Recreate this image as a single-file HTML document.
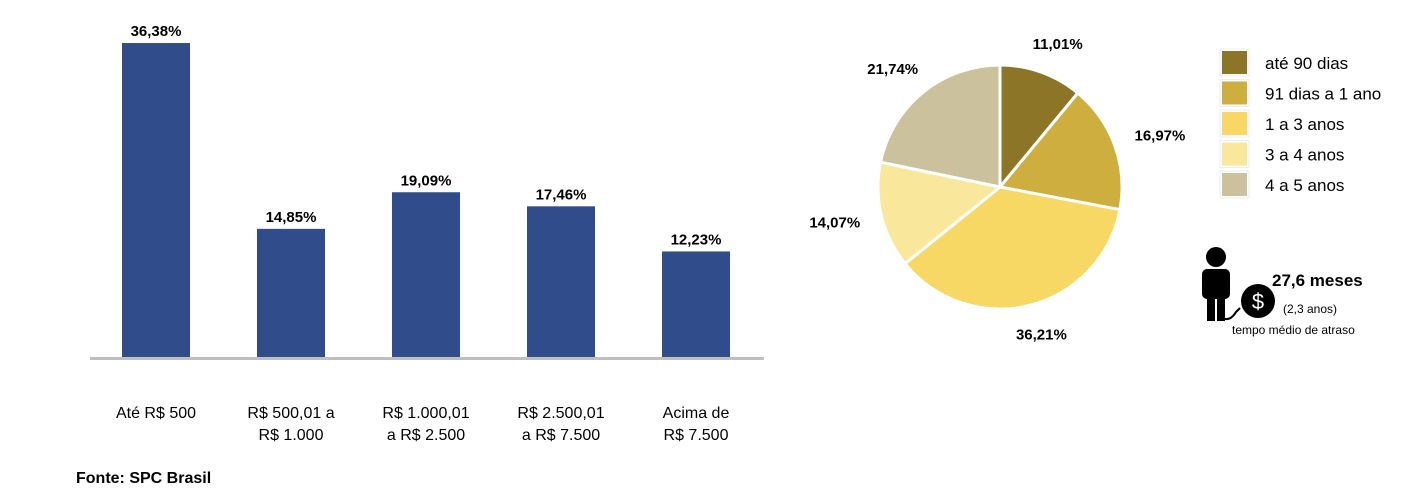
<!DOCTYPE html>
<html><head><meta charset="utf-8"><style>
html,body{margin:0;padding:0;background:#fff;width:1416px;height:498px;overflow:hidden}
svg{display:block;font-family:"Liberation Sans",sans-serif}
</style></head><body>
<svg id="c" width="1416" height="498" viewBox="0 0 1416 498">
<g id="bars"></g>
<line x1="90" y1="358.5" x2="764" y2="358.5" stroke="#bfbfbf" stroke-width="3"/>
<g id="xlabels"></g>
<text x="76" y="483" font-size="16" font-weight="bold" fill="#000">Fonte: SPC Brasil</text>
<g id="pie"></g>
<g id="legend"></g>
<g>
 <g fill="#000">
  <circle cx="1216" cy="257" r="10"/>
  <rect x="1202" y="269" width="28" height="30" rx="5"/>
  <rect x="1207" y="290" width="8" height="31"/>
  <rect x="1217" y="290" width="8" height="31"/>
  <path d="M1222 318 q8 4 14 -6 l4 -4" stroke="#000" stroke-width="2" fill="none"/>
 </g>
 <g>
  <circle cx="1258" cy="301" r="17" fill="#000"/>
  <text x="1258" y="309" font-size="22" fill="#fff" text-anchor="middle">$</text>
 </g>
 <text x="1272" y="286" font-size="17" font-weight="bold">27,6 meses</text>
 <text x="1283" y="313" font-size="12">(2,3 anos)</text>
 <text x="1232" y="334" font-size="12">tempo médio de atraso</text>
</g>
</svg>
<script>
const categories=[["Até R$ 500"],["R$ 500,01 a","R$ 1.000"],["R$ 1.000,01","a R$ 2.500"],["R$ 2.500,01","a R$ 7.500"],["Acima de","R$ 7.500"]];
const barValues=[36.38,14.85,19.09,17.46,12.23];
const barLabels=["36,38%","14,85%","19,09%","17,46%","12,23%"];
const pieCategories=["até 90 dias","91 dias a 1 ano","1 a 3 anos","3 a 4 anos","4 a 5 anos"];
const pieValues=[11.01,16.97,36.21,14.07,21.74];
const pieLabels=["11,01%","16,97%","36,21%","14,07%","21,74%"];
const pieColors=["#8c7526","#cfae40","#f8d864","#f9e79b","#cbc29d"];

const NS="http://www.w3.org/2000/svg";
function mk(t,a,p){const e=document.createElementNS(NS,t);for(const k in a)e.setAttribute(k,a[k]);p.appendChild(e);return e;}
const y0=357,scale=8.63,x0=156,step=135,bw=68;
const xPos=i=>x0+i*step, yPos=v=>y0-v*scale;
const gB=document.getElementById('bars'),gX=document.getElementById('xlabels');
barValues.forEach((v,i)=>{
 const r=mk('rect',{x:xPos(i)-bw/2,y:yPos(v),width:bw,height:y0-yPos(v),fill:'#304c8b'},gB);
 
 
 const t=mk('text',{x:xPos(i),y:yPos(v)-7,'font-size':15,'font-weight':'bold','text-anchor':'middle'},gB);
 t.textContent=barLabels[i];
 
 
 categories[i].forEach((l,j)=>{
  const c=mk('text',{x:xPos(i),y:418+j*22,'font-size':16,'text-anchor':'middle'},gX);
  c.textContent=l;
  
  
 });
});
const cx=1000,cy=187,R=122,gP=document.getElementById('pie');
const tot=pieValues.reduce((a,b)=>a+b,0);
let ang=0;
const lblOff=[[100,-127],[148,-50],[75,135],[-128,-37],[-128,-103]];
pieValues.forEach((v,i)=>{
 const a0=ang,a1=ang+v/tot*2*Math.PI;ang=a1;
 const p=a=>[cx+R*Math.sin(a),cy-R*Math.cos(a)];
 const [x1,y1]=p(a0),[x2,y2]=p(a1);
 const s=mk('path',{d:`M${cx},${cy}L${x1},${y1}A${R},${R} 0 ${a1-a0>Math.PI?1:0} 1 ${x2},${y2}Z`,fill:pieColors[i],stroke:'#fff','stroke-width':3},gP);
 
 
 const m=(a0+a1)/2;
 const lx=cx+(R+48)*Math.sin(m),ly=cy-(R+30)*Math.cos(m)+5;
 const t=mk('text',{x:lx,y:ly,'font-size':15,'font-weight':'bold','text-anchor':'middle'},gP);
 t.textContent=pieLabels[i];
 
 
});
const gL=document.getElementById('legend');
pieCategories.forEach((c,i)=>{
 const y=51+i*30.5;
 const g=mk('g',{},gL);
 
 
 mk('rect',{x:1220,y:y-2,width:29,height:27,fill:'none',stroke:'#eee'},g);
 mk('rect',{x:1222,y:y,width:25,height:23,fill:pieColors[i]},g);
 const t=mk('text',{x:1265,y:y+18,'font-size':17},g);
 t.textContent=c;
});
</script>
</body></html>
